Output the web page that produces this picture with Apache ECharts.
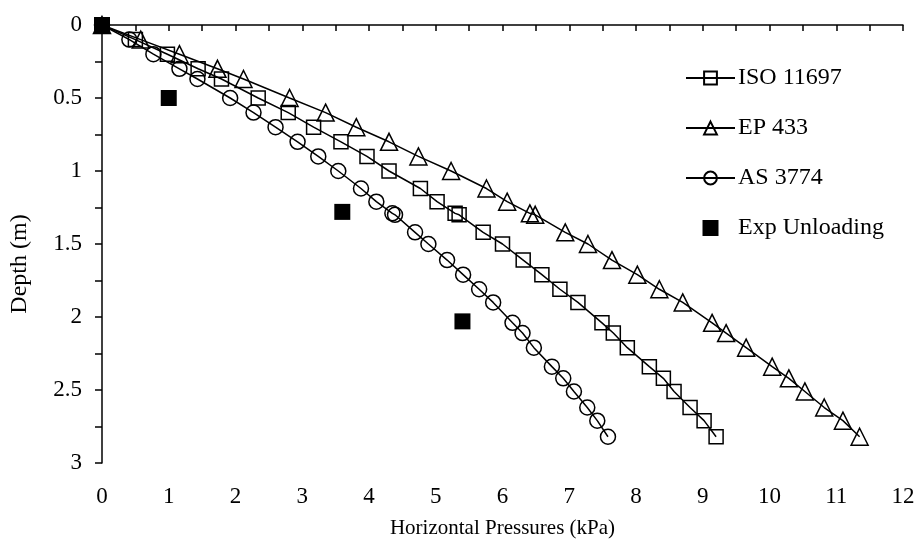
<!DOCTYPE html>
<html>
<head>
<meta charset="utf-8">
<script src="https://cdn.jsdelivr.net/npm/echarts@6/dist/echarts.min.js"></script>
<style>html,body{margin:0;padding:0;background:#fff}#c{width:919px;height:545px}</style>
</head>
<body>
<div id="c"></div>
<script>
const depths = [0, 0.1, 0.2, 0.3, 0.37, 0.5, 0.6, 0.7, 0.8, 0.9, 1.0, 1.12, 1.21, 1.29, 1.3, 1.42, 1.5, 1.61, 1.71, 1.81, 1.9, 2.04, 2.11, 2.21, 2.34, 2.42, 2.51, 2.62, 2.71, 2.82];
const iso11697 = [0, 0.5, 0.98, 1.44, 1.79, 2.34, 2.79, 3.17, 3.58, 3.97, 4.30, 4.77, 5.02, 5.29, 5.35, 5.71, 6.00, 6.31, 6.59, 6.86, 7.13, 7.49, 7.66, 7.87, 8.20, 8.41, 8.57, 8.81, 9.02, 9.20];
const ep433 = [0, 0.58, 1.16, 1.73, 2.12, 2.81, 3.35, 3.81, 4.30, 4.74, 5.23, 5.76, 6.07, 6.41, 6.49, 6.94, 7.28, 7.64, 8.02, 8.35, 8.70, 9.14, 9.35, 9.65, 10.04, 10.29, 10.53, 10.82, 11.10, 11.35];
const as3774 = [0, 0.41, 0.77, 1.16, 1.43, 1.92, 2.27, 2.60, 2.93, 3.24, 3.54, 3.88, 4.11, 4.35, 4.39, 4.69, 4.89, 5.17, 5.41, 5.65, 5.86, 6.15, 6.30, 6.47, 6.74, 6.91, 7.07, 7.27, 7.42, 7.58];
const expDepth = [0, 0.5, 1.28, 2.03];
const expPressure = [0, 1.0, 3.6, 5.4];
const seriesNames = ['ISO 11697', 'EP 433', 'AS 3774', 'Exp Unloading'];

const font = 'Liberation Serif';
function pairs(xs, ys) { return xs.map((x, i) => [x, ys[i]]); }
function lineSeries(name, values, symbol, size) {
  return {
    name: name, type: 'line', data: pairs(values, depths),
    symbol: symbol, symbolSize: size,
    lineStyle: { color: '#000', width: 1.5 },
    itemStyle: { color: 'rgba(255,255,255,0)', borderColor: '#000', borderWidth: 1.5 },
    emphasis: { disabled: true }, animation: false
  };
}
const chart = echarts.init(document.getElementById('c'));
chart.setOption({
  animation: false,
  backgroundColor: '#fff',
  grid: { left: 101.5, right: 16, top: 25, bottom: 82 },
  xAxis: {
    type: 'value', min: 0, max: 12, interval: 0.5,
    name: 'Horizontal Pressures (kPa)', nameLocation: 'middle', nameGap: 55,
    nameTextStyle: { fontFamily: font, fontSize: 21, color: '#000' },
    axisLine: { show: true, lineStyle: { color: '#000', width: 1.5 } },
    axisTick: { show: true, length: 6, lineStyle: { color: '#000', width: 1.5 } },
    axisLabel: { fontFamily: font, fontSize: 23, color: '#000', margin: 22,
      formatter: v => (Math.abs(v - Math.round(v)) < 1e-6 ? String(Math.round(v)) : '') },
    splitLine: { show: false }
  },
  yAxis: {
    type: 'value', min: 0, max: 3, interval: 0.25, inverse: true,
    name: 'Depth (m)', nameLocation: 'middle', nameGap: 70,
    nameTextStyle: { fontFamily: font, fontSize: 24, color: '#000', padding: [0, 40, 0, 0] },
    axisLine: { show: true, lineStyle: { color: '#000', width: 1.5 } },
    axisTick: { show: true, length: 7, lineStyle: { color: '#000', width: 1.5 } },
    axisLabel: { fontFamily: font, fontSize: 23, color: '#000', margin: 20,
      formatter: v => (Math.abs(v * 2 - Math.round(v * 2)) < 1e-6 ? String(v) : '') },
    splitLine: { show: false }
  },
  legend: {
    orient: 'vertical', left: 680, top: 61,
    itemWidth: 49, itemHeight: 16, itemGap: 26,
    textStyle: { fontFamily: font, fontSize: 24, color: '#000', padding: [0, 0, 0, -2] },
    data: [
      { name: seriesNames[0] },
      { name: seriesNames[1] },
      { name: seriesNames[2] },
      { name: seriesNames[3], icon: 'path://M0,0L1,0L1,1L0,1Z' }
    ]
  },
  series: [
    lineSeries(seriesNames[0], iso11697, 'rect', 14),
    lineSeries(seriesNames[1], ep433, 'triangle', 17),
    lineSeries(seriesNames[2], as3774, 'circle', 15),
    {
      name: seriesNames[3], type: 'scatter', data: pairs(expPressure, expDepth),
      symbol: 'rect', symbolSize: 16, z: 5,
      itemStyle: { color: '#000', opacity: 1 }, emphasis: { disabled: true }
    }
  ]
});
</script>
</body>
</html>
